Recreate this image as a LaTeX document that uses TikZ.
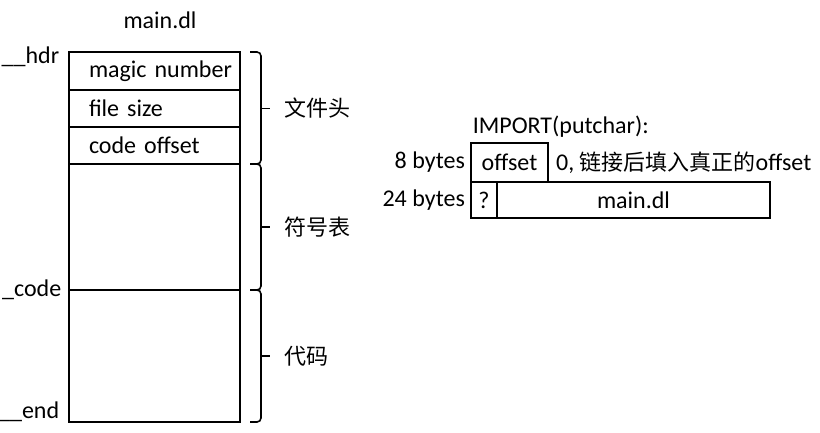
\documentclass[tikz,border=0pt]{standalone}
\usepackage{fontspec}
\setmainfont{Carlito}
\newfontfamily\cjk{Noto Sans CJK SC}
\usetikzlibrary{positioning}

\begin{document}
\begin{tikzpicture}[x=1pt,y=1pt,line width=1.6pt,
                    font=\fontsize{24}{28}\selectfont]
  \tikzstyle{cell}=[draw=black,anchor=north west,outer sep=0pt,inner ysep=0pt,
                    inner xsep=0pt,text width=171pt,align=left]
  \tikzstyle{field}=[draw=black,outer sep=0pt,inner sep=0pt,align=center]
  \tikzstyle{addr}=[anchor=east,inner sep=0pt]
  \tikzstyle{bracket}=[rounded corners=4pt]
  \tikzstyle{zh}=[font=\fontsize{22}{26}\selectfont\cjk]
  \useasboundingbox (0,0) rectangle (820,-432);

  \node (title) at (160,-20) {main.dl};

  \node[cell,minimum height=38pt] (magic) at (69,-52) {\hspace*{20pt}magic number};
  \node[cell,minimum height=37pt] (size)  [below=0pt of magic] {\hspace*{20pt}file size};
  \node[cell,minimum height=37pt] (offs)  [below=0pt of size]  {\hspace*{20pt}code offset};
  \node[cell,minimum height=126pt] (symtab) [below=0pt of offs] {};
  \node[cell,minimum height=132pt] (code) [below=0pt of symtab] {};

  \node[addr] (hdr) at ([xshift=-9pt,yshift=-5pt]magic.north west) {\_\_hdr};
  \node[addr] (codelbl) at ([xshift=-7pt]code.north west) {\_code};
  \node[addr] (endlbl) at ([xshift=-9pt,yshift=10pt]code.south west) {\_\_end};

  % braces on the right
  \draw[bracket] ([xshift=10pt]magic.north east) -- ++(11pt,0) |- ([xshift=10pt]offs.south east);
  \draw ([xshift=21pt]size.east) -- ++(9pt,0) node[right=10pt,zh] (headlbl) {文件头};
  \draw[bracket] ([xshift=10pt]symtab.north east) -- ++(11pt,0) |- ([xshift=10pt]symtab.south east);
  \draw ([xshift=21pt]symtab.east) -- ++(9pt,0) node[right=10pt,zh] (symlbl) {符号表};
  \draw[bracket] ([xshift=10pt]code.north east) -- ++(11pt,0) |- ([xshift=10pt]code.south east);
  \draw ([xshift=21pt]code.east) -- ++(9pt,0) node[right=10pt,zh] (textlbl) {代码};

  \node[field,minimum width=77pt,minimum height=39pt,anchor=north west] (off) at (471,-143) {offset};
  \node[field,minimum width=26pt,minimum height=36pt,anchor=north west] (q) at (off.south west) {?};
  \node[field,minimum width=273pt,minimum height=36pt] (name) [right=0pt of q] {main.dl};

  \node[anchor=west,inner xsep=1pt] (imp) at ([yshift=16pt]off.north west) {IMPORT(putchar):};
  \node (eight) [left=2pt of off] {8 bytes};
  \node (twentyfour) [left=2pt of q] {24 bytes};
  \node (note) [right=4pt of off] {0, {\cjk\fontsize{22}{26}\selectfont 链接后填入真正的}offset};
\end{tikzpicture}
\end{document}
